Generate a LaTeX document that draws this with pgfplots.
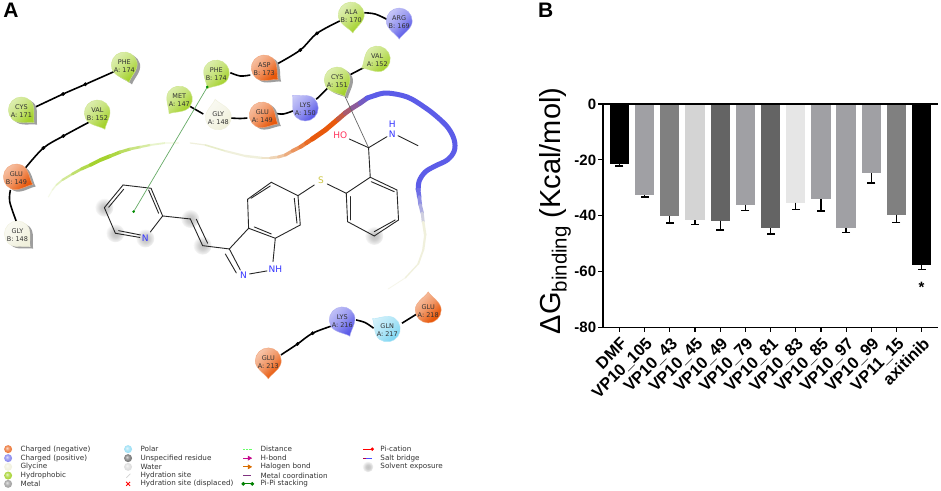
\documentclass[border=0pt]{standalone}
\usepackage{fontspec}
\setmainfont{Liberation Sans}
\newfontfamily\dv{DejaVu Sans}
\usepackage{pgfplots}
\pgfplotsset{compat=1.18}

\definecolor{pale}{HTML}{F0F0DC}
\definecolor{rgreen}{HTML}{A5D22E}
\definecolor{rorange}{HTML}{E8590C}
\definecolor{rblue}{HTML}{5C5CE8}
\definecolor{rcyan}{HTML}{7FD6F2}
\definecolor{gA}{RGB}{160,160,164}
\definecolor{gB}{RGB}{128,128,128}
\definecolor{gC}{RGB}{212,212,212}
\definecolor{gD}{RGB}{100,100,100}
\definecolor{gE}{RGB}{230,230,230}

\newcommand\droppath{%
  \pgfpathmoveto{\pgfqpoint{0pt}{18pt}}%
  \pgfpathcurveto{\pgfqpoint{-3pt}{13pt}}{\pgfqpoint{-13pt}{8pt}}{\pgfqpoint{-13pt}{0pt}}%
  \pgfpatharc{180}{360}{13pt}%
  \pgfpathcurveto{\pgfqpoint{13pt}{8pt}}{\pgfqpoint{3pt}{13pt}}{\pgfqpoint{0pt}{18pt}}%
  \pgfpathclose}
% residue fills, light end on top
\newcommand\mkdrop[2]{%
  \pgfdeclareverticalshading{#1}{100bp}{color(0bp)=(#2);color(30bp)=(#2);color(52bp)=(#2!62!white);color(100bp)=(#2!8!white)}%
  \pgfdeclareplotmark{#1}{\droppath\pgfshadepath{#1}{45}\pgfsetlinewidth{.4pt}\pgfusepath{stroke}}}
\mkdrop{sgreen}{rgreen}
\mkdrop{sorange}{rorange}
\mkdrop{sblue}{rblue}
\mkdrop{scyan}{rcyan}
\mkdrop{spale}{pale}
\pgfdeclareplotmark{dropflat}{\droppath\pgfusepath{fill}}
% soft legend balls
\newcommand\mkball[2]{%
  \pgfdeclareradialshading{#1}{\pgfpoint{-8bp}{8bp}}{color(0bp)=(#2!25!white);color(14bp)=(#2!80!white);color(30bp)=(#2);color(50bp)=(#2)}%
  \pgfdeclareplotmark{#1}{\pgfpathcircle{\pgfpointorigin}{4pt}\pgfshadepath{#1}{0}\pgfusepath{discard}}}
\mkball{bo}{rorange!85!white}
\mkball{bb}{rblue!75!white}
\mkball{bp}{pale}
\mkball{bg}{rgreen}
\mkball{bm}{black!38!white}
\mkball{bc}{rcyan!80!white}
\mkball{bu}{black!55!white}
\mkball{bw}{black!14!white}
\pgfdeclareradialshading{fz}{\pgfpointorigin}{color(0bp)=(black!24);color(10bp)=(black!20);color(20bp)=(black!9);color(28bp)=(white);color(50bp)=(white)}
\pgfdeclareplotmark{fuzzy}{\pgfpathcircle{\pgfpointorigin}{9pt}\pgfshadepath{fz}{0}\pgfusepath{discard}}

\pgfplotsset{
  px/.style={at={(0pt,0pt)},anchor=south west,scale only axis,width=941pt,height=491pt,
    xmin=0,xmax=941,ymin=0,ymax=491,y dir=reverse,hide axis,clip=false},
  bond/.style={forget plot,color=black!85,line width=.9pt,line cap=round},
  back/.style={forget plot,black,line width=1.6pt,smooth,tension=.55},
  bar1/.style={ybar,bar shift=0pt,bar width=19.3pt,fill=#1,draw=none,forget plot,
    error bars/.cd,y dir=minus,y explicit,
    error bar style={black,solid,line width=1.3pt},
    error mark options={black,solid,rotate=90,mark size=4pt,line width=1.3pt}},
}

\newcommand\bd[4]{\addplot[bond] coordinates {(#1,#2)(#3,#4)};}
% ribbon pieces, each continues from the last point
\newcommand\rbstart[2]{\xdef\px{#1}\xdef\py{#2}}
\newcommand\rb[4]{\addplot[forget plot,color=#4,line width=#3pt,line cap=round] coordinates {(\px,\py)(#1,#2)};\xdef\px{#1}\xdef\py{#2}}
% x y rotation mark edge
\newcommand\res[5]{\addplot[forget plot,only marks,mark=#4,mark options={rotate=#3,draw=#5}] coordinates {(#1,#2)};}
\newcommand\shd[3]{\addplot[forget plot,only marks,mark=dropflat,mark options={rotate=#3,fill=black!38,draw=none}] coordinates {(#1+3,#2+2)};}
\newcommand\rt[4]{\node[font=\dv\fontsize{6.5}{7.6}\selectfont,align=center,text=black!80,inner sep=0pt] at (axis cs:#1,#2+1) {#3\\#4};}
\newcommand\legt[3]{\node[font=\dv\fontsize{7.2}{8}\selectfont,text=black!80,anchor=west,inner sep=0pt] at (axis cs:#1,#2) {#3};}
\newcommand\lball[3]{\addplot[forget plot,only marks,mark=#3] coordinates {(#1,#2)};}
\newcommand\atm[4]{\node[font=\dv\fontsize{9}{9}\selectfont,text=#4,inner sep=0pt] at (axis cs:#1,#2) {#3};}

\begin{document}
\begin{tikzpicture}
% white page and solvent exposure, under everything
\begin{axis}[px]
\addplot[forget plot,fill=white,draw=none] coordinates {(0,0)(941,0)(941,491)(0,491)} --cycle;
\addplot[forget plot,only marks,mark=fuzzy] coordinates {(104,207.7)(115,233.3)(145,238.5)(190,219)(202.3,245.7)(374,236)};
\end{axis}

\begin{axis}[px]
% ribbon
\rbstart{48}{197}
\rb{52}{190}{1.0}{rgreen!10!white}
\rb{56}{185}{1.3}{rgreen!20!white}
\rb{62}{180}{1.7}{rgreen!32!white}
\rb{72}{174}{2.2}{rgreen!50!white}
\rb{81}{169}{2.7}{rgreen!70!white}
\rb{90}{165}{3.2}{rgreen!85!white}
\rb{100}{160}{3.6}{rgreen}
\rb{110}{156}{3.8}{rgreen}
\rb{120}{152}{3.4}{rgreen!90!white}
\rb{130}{149}{3.0}{rgreen!75!white}
\rb{140}{147}{2.6}{rgreen!60!white}
\rb{150}{145}{2.2}{rgreen!45!white}
\rb{165}{143}{1.8}{rgreen!25!white}
\rb{178}{143}{1.4}{rgreen!10!white}
\rbstart{190}{143}
\rb{205}{145}{1.2}{pale}
\rb{225}{151}{1.6}{pale!90!rgreen}
\rb{245}{156}{2.0}{pale}
\rb{262}{158}{2.4}{pale}
\rb{270}{158}{2.6}{rorange!8!pale}
\rb{278}{157}{2.8}{rorange!18!pale}
\rb{285}{155}{3.0}{rorange!30!pale}
\rb{292}{151}{3.2}{rorange!45!pale}
\rb{300}{147}{3.6}{rorange!60!pale}
\rb{306}{143}{4.0}{rorange!75!pale}
\rb{312}{139}{4.4}{rorange!88!pale}
\rb{325}{130}{5.0}{rorange}
\rb{338}{119}{5.0}{rorange}
\rb{345}{113}{5.0}{rorange!75!rblue}
\rb{352}{108}{5.0}{rorange!55!rblue}
\rb{360}{103}{5.0}{rorange!35!rblue}
\rb{367}{98}{5.0}{rorange!18!rblue}
\rb{376}{95}{5.0}{rblue}
\addplot[forget plot,color=rblue,line width=5pt,line cap=round,smooth,tension=.6] coordinates {(376,95)(387,93)(407,97)(424,107)(437,117)(448,128)(454,140)(454,151)(447,160)(435,166)(425,172)(419,181)(418,190)};
\rbstart{418}{190}
\rb{419}{197}{4.4}{rblue!88!pale}
\rb{420}{205}{3.8}{rblue!65!pale}
\rb{422}{213}{3.4}{rblue!45!pale}
\rb{423}{222}{3.0}{rblue!22!pale}
\rb{425}{235}{2.6}{pale}
\rb{423}{250}{2.2}{pale}
\rb{418}{264}{1.8}{pale}
\rb{405}{278}{1.3}{pale}
\rb{388}{289}{.8}{pale!60!white}

% ligand
\bd{162.3}{216}{150}{232}
\bd{115}{233.3}{139.5}{237.5}
\bd{118.3}{230.7}{140}{235}
\bd{162.3}{216}{150.7}{188.3}
\bd{158.3}{213.3}{148.3}{190}
\bd{150.7}{188.3}{122.7}{185}
\bd{122.7}{185}{104}{207.7}
\bd{123.3}{189.3}{108.3}{207.3}
\bd{104}{207.7}{115}{233.3}
\bd{162.3}{216}{190}{219}
\bd{190}{219}{202.3}{245.7}
\bd{196}{219.3}{207.3}{243.3}
\bd{202.3}{245.7}{229}{249}
\bd{229}{249}{240}{270}
\bd{225}{254}{236}{273}
\bd{249.3}{274}{266.7}{271}
\bd{272.7}{261.7}{275}{238.3}
\bd{275}{238.3}{248.3}{228.3}
\bd{254}{227}{271}{234}
\bd{248.3}{228.3}{229}{249}
\bd{248.3}{228.3}{247.3}{199.3}
\bd{247.3}{199.3}{271}{182.3}
\bd{250.7}{198.3}{270}{186}
\bd{271}{182.3}{297.7}{195.7}
\bd{297.7}{195.7}{300}{225}
\bd{294}{198.3}{296.7}{223.3}
\bd{300}{225}{275}{238.3}
\bd{297.7}{195.7}{314}{185}
\bd{327}{184}{346}{193.3}
\bd{346}{193.3}{370}{177.3}
\bd{370}{177.3}{396.7}{190}
\bd{371}{181.7}{394}{191.7}
\bd{396.7}{190}{398.3}{220}
\bd{398.3}{220}{374}{236}
\bd{395}{220}{374}{231.7}
\bd{374}{236}{347.3}{221.7}
\bd{347.3}{221.7}{346}{193.3}
\bd{350}{196.7}{350}{220}
\bd{370}{177.3}{368.3}{147.7}
\bd{368.3}{147.7}{349}{139}
\bd{368.3}{147.7}{386.7}{136.7}
\bd{397.7}{135.7}{417.7}{145.7}

% backbone
\addplot[back] coordinates {(115,71)(85,84.3)(62.7,94)(35,107)};
\addplot[back] coordinates {(89,122)(63,136)(43,148)(25,168)};
\addplot[back] coordinates {(10,190)(9.3,201.7)(16,221.7)};
\addplot[back] coordinates {(189,106)(203,114)};
\addplot[back] coordinates {(230,118)(240,118.5)(247,118)};
\addplot[back] coordinates {(230,72.7)(240,76)(250,75)};
\addplot[back] coordinates {(276.7,64)(300,50)(316.7,33.3)(340,20.7)};
\addplot[back] coordinates {(364,12.7)(375,14)(386.7,19.3)};
\addplot[back] coordinates {(275,113.3)(283,114)(293.3,110.7)};
\addplot[back] coordinates {(316,99.3)(328.3,87.3)};
\addplot[back] coordinates {(349.3,75)(363.3,67.7)};
\addplot[back] coordinates {(280.7,355)(297.3,344)(312.3,333.3)(331.7,326)};
\addplot[back] coordinates {(355.7,320)(365,322.7)(373.3,328.3)};
\addplot[back] coordinates {(401.7,323.3)(416.7,314)};
\addplot[forget plot,only marks,mark=*,mark size=1.7pt,black] coordinates {(85,84.3)(62.7,94)(63,136)(43,148)(300,50)(316.7,33.3)(297.3,344)(312.3,333.3)};

% residues
\shd{124}{65}{-165}
\shd{21}{110}{-135}
\shd{16}{177}{-115}
\shd{17}{234}{-135}
\shd{264}{68}{-130}
\shd{337}{80}{-155}
\shd{262}{115}{-120}
\res{124}{65}{-165}{sgreen}{rgreen!55!white}
\res{21}{110}{-135}{sgreen}{rgreen!55!white}
\res{97}{113}{-155}{sgreen}{rgreen!55!white}
\res{16}{177}{-115}{sorange}{rorange!55!white}
\res{17}{234}{-135}{spale}{pale}
\res{216}{73}{150}{sgreen}{rgreen!55!white}
\res{179}{99}{145}{sgreen}{rgreen!55!white}
\res{218}{117}{10}{spale}{pale}
\res{264}{68}{-130}{sorange}{rorange!55!white}
\res{351}{15}{-175}{sgreen}{rgreen!55!white}
\res{399}{21}{180}{sblue}{rblue!50!white}
\res{377}{59}{120}{sgreen}{rgreen!55!white}
\res{337}{80}{-155}{sgreen}{rgreen!55!white}
\res{305}{108}{45}{sblue}{rblue!50!white}
\res{262}{115}{-120}{sorange}{rorange!55!white}
\res{268}{361}{180}{sorange}{rorange!55!white}
\res{342}{320}{-155}{sblue}{rblue!50!white}
\res{387}{329}{55}{scyan}{rcyan!60!white}
\res{428}{310}{0}{sorange}{rorange!55!white}

% legend keys
\lball{7.7}{449.3}{bo}
\lball{7.7}{458.3}{bb}
\lball{7.7}{467}{bp}
\lball{7.7}{475.7}{bg}
\lball{7.7}{484}{bm}
\lball{127.7}{449.3}{bc}
\lball{127.7}{458.3}{bu}
\lball{127.7}{467}{bw}
\addplot[forget plot,black!18,line width=.7pt] coordinates {(126,478)(130,474)};
\addplot[forget plot,only marks,mark=x,mark size=2.8pt,red,mark options={line width=.9pt}] coordinates {(127.7,484)};
\addplot[forget plot,green!60!white,line width=.8pt,dash pattern=on 2pt off .6pt] coordinates {(243,449.3)(251,449.3)};
\addplot[forget plot,magenta!80!blue,line width=.8pt] coordinates {(243,458.3)(251,458.3)};
\addplot[forget plot,only marks,mark=triangle*,mark size=2.4pt,magenta!80!blue,mark options={rotate=-90}] coordinates {(249,458.3)};
\addplot[forget plot,orange!85!black,line width=.8pt] coordinates {(243,467)(251,467)};
\addplot[forget plot,only marks,mark=triangle*,mark size=2.4pt,orange!85!black,mark options={rotate=-90}] coordinates {(249,467)};
\addplot[forget plot,violet!60!gray,line width=.8pt] coordinates {(243,475.7)(251,475.7)};
\addplot[forget plot,green!50!black,line width=.9pt,mark=*,mark size=1.4pt] coordinates {(243,484)(252,484)};
\addplot[forget plot,red,line width=.9pt] coordinates {(363,449.3)(372,449.3)};
\addplot[forget plot,only marks,mark=*,mark size=1.5pt,red] coordinates {(372,449.3)};
\addplot[forget plot,red!70!blue,line width=.8pt] coordinates {(363,458.3)(366,458.3)};
\addplot[forget plot,blue!70!white,line width=.8pt] coordinates {(366,458.3)(372,458.3)};
\addplot[forget plot,only marks,mark=fuzzy,mark options={scale=.6}] coordinates {(367.7,467)};
\end{axis}

% contacts and all text, on top
\begin{axis}[px]
\addplot[forget plot,color=green!45!black!60,line width=.7pt] coordinates {(207,87)(133.3,211.7)};
\addplot[forget plot,only marks,mark=*,mark size=1.1pt,color=green!55!black] coordinates {(207,87)(133.3,211.7)};
\addplot[forget plot,color=black!60,line width=.7pt] coordinates {(345,97)(368,147)};
\rt{124}{65}{PHE}{A: 174}
\rt{21}{110}{CYS}{A: 171}
\rt{97}{113}{VAL}{B: 152}
\rt{16}{177}{GLU}{B: 149}
\rt{17}{234}{GLY}{B: 148}
\rt{216}{73}{PHE}{B: 174}
\rt{179}{99}{MET}{A: 147}
\rt{218}{117}{GLY}{A: 148}
\rt{264}{68}{ASP}{B: 173}
\rt{351}{15}{ALA}{B: 170}
\rt{399}{21}{ARG}{B: 169}
\rt{377}{59}{VAL}{A: 152}
\rt{337}{80}{CYS}{A: 151}
\rt{305}{108}{LYS}{A: 150}
\rt{262}{115}{GLU}{A: 149}
\rt{268}{361}{GLU}{A: 213}
\rt{342}{320}{LYS}{A: 216}
\rt{387}{329}{GLN}{A: 217}
\rt{428}{310}{GLU}{A: 218}
\atm{145}{238.5}{N}{blue!80!white}
\atm{243.3}{275}{N}{blue!80!white}
\atm{275}{269.3}{NH}{blue!80!white}
\atm{320.7}{180.5}{S}{yellow!75!black!90}
\atm{340}{135.7}{HO}{red!80!magenta!80}
\atm{392}{124}{H}{blue!80!white}
\atm{392}{134}{N}{blue!80!white}
\legt{20}{449.3}{Charged (negative)}
\legt{20}{458.3}{Charged (positive)}
\legt{20}{467}{Glycine}
\legt{20}{475.7}{Hydrophobic}
\legt{20}{484}{Metal}
\legt{140}{449.3}{Polar}
\legt{140}{458.3}{Unspecified residue}
\legt{140}{467}{Water}
\legt{140}{475.7}{Hydration site}
\legt{140}{484}{Hydration site (displaced)}
\legt{260}{449.3}{Distance}
\legt{260}{458.3}{H-bond}
\legt{260}{467}{Halogen bond}
\legt{260}{475.7}{Metal coordination}
\legt{260}{484}{Pi-Pi stacking}
\legt{380}{449.3}{Pi-cation}
\legt{380}{458.3}{Salt bridge}
\legt{380}{467}{Solvent exposure}
\node[font=\bfseries\fontsize{21}{21}\selectfont] at (axis cs:10.5,10.5) {A};
\node[font=\bfseries\fontsize{21}{21}\selectfont] at (axis cs:545.5,10.5) {B};
\node[font=\fontsize{29}{29}\selectfont,rotate=90,anchor=base,inner sep=0pt] at (axis cs:560,211) {ΔG\raisebox{-.22em}{\fontsize{20.5}{20.5}\selectfont binding} (Kcal/mol)};
\end{axis}

\begin{axis}[at={(602.7pt,163.5pt)},anchor=south west,scale only axis,width=335.3pt,height=223.5pt,
  xmin=-0.66,xmax=12.65,ymin=-80,ymax=0,
  axis x line=bottom,axis y line=left,axis line style={-,line width=1.4pt},
  tick align=outside,major tick length=4.5pt,tick style={black,line width=1.2pt},
  xtick={0,...,12},
  xticklabels={DMF,VP10\_105,VP10\_43,VP10\_45,VP10\_49,VP10\_79,VP10\_81,VP10\_83,VP10\_85,VP10\_97,VP10\_99,VP11\_15,axitinib},
  x tick label style={rotate=45,anchor=north east,font=\bfseries\fontsize{16.5}{16.5}\selectfont,inner sep=2pt,yshift=-1.5pt,xshift=-1pt},
  ytick={-80,-60,-40,-20,0},yticklabels={-80,-60,-40,-20,0},
  y tick label style={font=\bfseries\fontsize{15}{15}\selectfont,inner sep=2pt},
  clip=false]
\addplot[bar1=black] coordinates {(0,-21.5) -= (0,0.7)};
\addplot[bar1=gA] coordinates {(1,-32.6) -= (0,0.7)};
\addplot[bar1=gB] coordinates {(2,-40.1) -= (0,2.5)};
\addplot[bar1=gC] coordinates {(3,-41.6) -= (0,1.5)};
\addplot[bar1=gD] coordinates {(4,-41.8) -= (0,3.3)};
\addplot[bar1=gA] coordinates {(5,-36.1) -= (0,2.0)};
\addplot[bar1=gD] coordinates {(6,-44.5) -= (0,2.1)};
\addplot[bar1=gE] coordinates {(7,-35.3) -= (0,2.5)};
\addplot[bar1=gA] coordinates {(8,-34.0) -= (0,4.3)};
\addplot[bar1=gA] coordinates {(9,-44.4) -= (0,1.7)};
\addplot[bar1=gA] coordinates {(10,-24.8) -= (0,3.5)};
\addplot[bar1=gB] coordinates {(11,-39.6) -= (0,2.9)};
\addplot[bar1=black] coordinates {(12,-57.6) -= (0,1.6)};
\addplot[forget plot,black,line width=1.5pt] coordinates {(-0.66,0)(12.65,0)};
\node[font=\bfseries\fontsize{15}{15}\selectfont] at (axis cs:12,-65.5) {*};
\end{axis}
\end{tikzpicture}
\end{document}
